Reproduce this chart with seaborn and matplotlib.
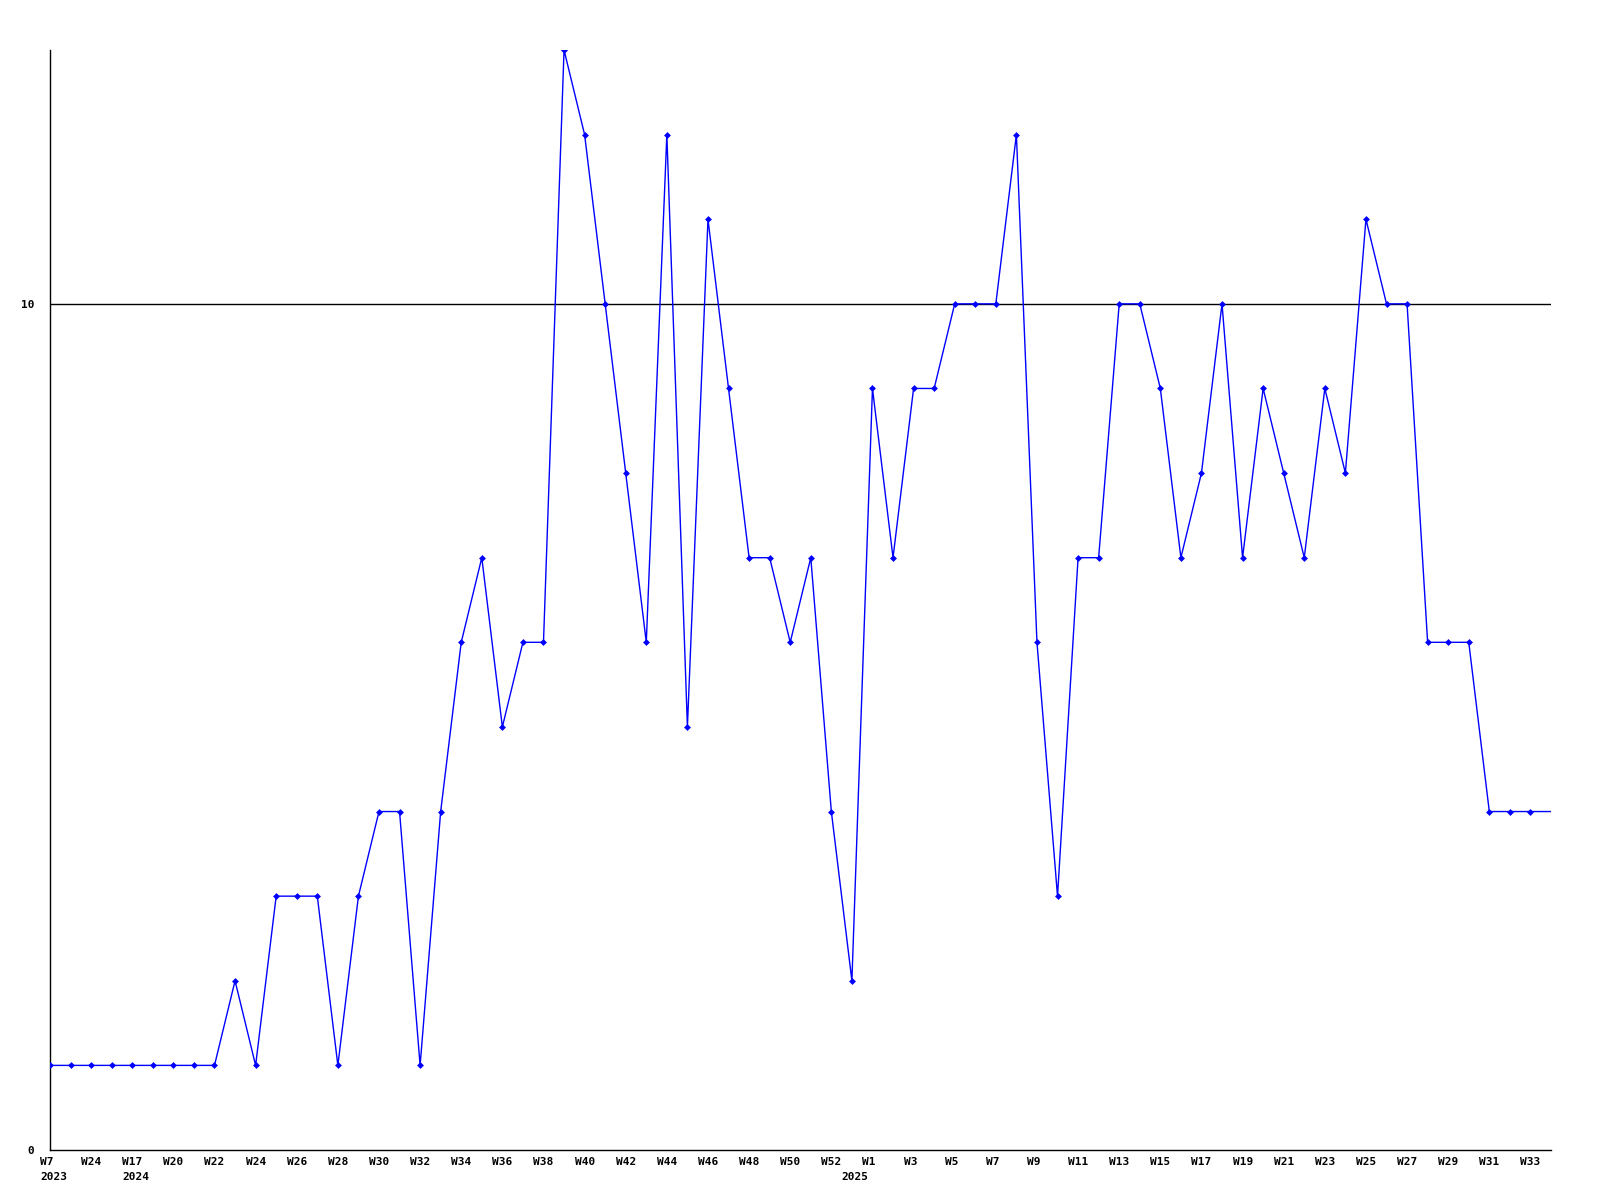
import matplotlib
matplotlib.use("Agg")
import matplotlib.pyplot as plt
from matplotlib.transforms import ScaledTranslation
import numpy as np
import pandas as pd
import seaborn as sns

# weekly counts, one value per week shown on the x axis
values = [1, 1, 1, 1, 1, 1, 1, 1, 1, 2,
          1, 3, 3, 3, 1, 3, 4, 4, 1, 4,
          6, 7, 5, 6, 6, 13, 12, 10, 8, 6,
          12, 5, 11, 9, 7, 7, 6, 7, 4, 2,
          9, 7, 9, 9, 10, 10, 10, 12, 6, 3,
          7, 7, 10, 10, 9, 7, 8, 10, 7, 9,
          8, 7, 9, 8, 11, 10, 10, 6, 6, 6,
          4, 4, 4, 4]

# labels on every second week
tick_labels = ["W7", "W24", "W17", "W20", "W22", "W24", "W26", "W28", "W30",
               "W32", "W34", "W36", "W38", "W40", "W42", "W44", "W46", "W48",
               "W50", "W52", "W1", "W3", "W5", "W7", "W9", "W11", "W13", "W15",
               "W17", "W19", "W21", "W23", "W25", "W27", "W29", "W31", "W33"]
years = ["2023", "2024", "2025"]
year_idx = [0, 4, 40]
ref_value = 10

df = pd.DataFrame({"week": np.arange(len(values)), "count": values})

sns.set_style("white")
plt.rcParams["font.family"] = ["DejaVu Sans Mono"]
fnt = dict(fontsize=8, fontweight="bold", color="black")

fig = plt.figure(figsize=(16, 12), dpi=100)
ax = fig.add_axes([50 / 1600, 50 / 1200, 1501 / 1600, 1100 / 1200])

ax.axhline(ref_value, color="black", lw=1, zorder=1)
sns.lineplot(data=df, x="week", y="count", ax=ax, color="#0000ff", lw=1,
             marker="D", markersize=3.5, markeredgewidth=0,
             markevery=list(range(len(values) - 1)), zorder=3)

ax.set_xlim(0, len(values) - 1)
ax.set_ylim(0, 13)
ax.set_xlabel("")
ax.set_ylabel("")

# week labels, drawn as text so they can sit slightly left of each point
ax.set_xticks([])
xt = ax.get_xaxis_transform()
px = fig.dpi_scale_trans
for k, lab in enumerate(tick_labels):
    t = xt + ScaledTranslation(-10 / 100, -7 / 100, px)
    ax.text(2 * k, 0, lab, transform=t, ha="left", va="top", **fnt)

year_shift = [10, 10, 31]
for yr, i, s in zip(years, year_idx, year_shift):
    t = xt + ScaledTranslation(-s / 100, -22 / 100, px)
    ax.text(i, 0, yr, transform=t, ha="left", va="top", **fnt)

ax.set_yticks([0, 10])
ax.set_yticklabels(["0", "10"], **fnt)
ax.tick_params(axis="both", length=0)
ax.tick_params(axis="y", pad=11.5)

for side in ["top", "right"]:
    ax.spines[side].set_visible(False)
for side in ["left", "bottom"]:
    ax.spines[side].set_color("black")
    ax.spines[side].set_linewidth(1)

fig.savefig("out.png", dpi=100, facecolor="white")
